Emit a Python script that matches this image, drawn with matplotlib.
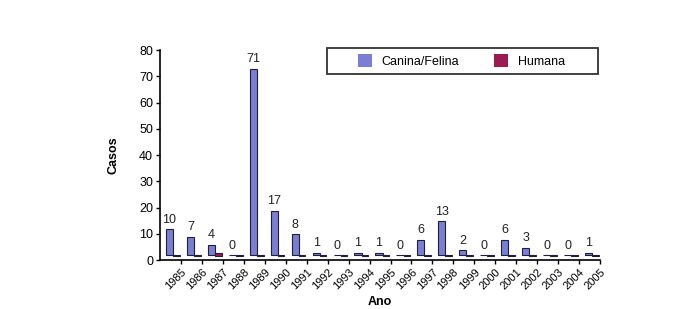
import numpy as np
import matplotlib.pyplot as plt
from matplotlib.patches import Rectangle

plt.rcParams['font.family'] = ['Liberation Sans', 'DejaVu Sans']

# Données : casos de raiva por ano
anos = ['1985', '1986', '1987', '1988', '1989', '1990', '1991', '1992', '1993', '1994', '1995',
        '1996', '1997', '1998', '1999', '2000', '2001', '2002', '2003', '2004', '2005']
canina_felina = [10, 7, 4, 0, 71, 17, 8, 1, 0, 1, 1, 0, 6, 13, 2, 0, 6, 3, 0, 0, 1]
humana = [0, 0, 1, 0, 0, 0, 0, 0, 0, 0, 0, 0, 0, 0, 0, 0, 0, 0, 0, 0, 0]

cor_canina = '#7b7fd4'
cor_humana = '#9a1a52'
cor_borda = '#1f1f3a'
piso = 1.8  # profondeur de l'effet 3D

x = np.arange(len(anos))

fig = plt.figure(figsize=(6.91, 3.09), dpi=100)
ax = fig.add_axes([0.2315, 0.158, 0.637, 0.68])

ax.bar(x - 0.05, canina_felina, width=0.34, bottom=piso, color=cor_canina,
       edgecolor=cor_borda, linewidth=0.8, label='Canina/Felina')
ax.bar(x + 0.28, np.array(humana) + 0.25, width=0.32, bottom=piso - 0.25, color=cor_humana,
       edgecolor=cor_borda, linewidth=0.8, label='Humana')

for xi, v in zip(x, canina_felina):
    ax.text(xi - 0.05, v + piso + 1.4, str(v), ha='center', va='bottom',
            fontsize=9, color='#222222')

ax.set_xlim(-0.5, len(anos) - 0.5)
ax.set_ylim(0, 80)
ax.set_yticks(range(0, 81, 10))
ax.set_xticks(x + 0.5)
ax.set_xticklabels(anos, rotation=45, ha='right', rotation_mode='anchor', fontsize=8)
ax.tick_params(axis='y', labelsize=9, length=3, width=1, pad=2)
ax.tick_params(axis='x', length=3, width=1, pad=2)

for s in ['top', 'right']:
    ax.spines[s].set_visible(False)
for s in ['left', 'bottom']:
    ax.spines[s].set_linewidth(1.2)

ax.set_ylabel('Casos', fontsize=9, fontweight='bold', labelpad=14)
ax.set_xlabel('Ano', fontsize=9, fontweight='bold', labelpad=3)

# cadre de la légende, plus large que la légende elle-même
ax.add_patch(Rectangle((0.38, 0.885), 0.615, 0.125, transform=ax.transAxes, fill=False,
                       edgecolor='#333333', linewidth=1.3, clip_on=False, zorder=5))
leg = ax.legend(loc='center', ncol=2, bbox_to_anchor=(0.685, 0.947), fontsize=9,
                frameon=False, handlelength=1.1, handleheight=1.2, columnspacing=2.8,
                handletextpad=0.8)
for h in leg.legend_handles:
    h.set_edgecolor('none')

fig.savefig('out.png', dpi=100)
